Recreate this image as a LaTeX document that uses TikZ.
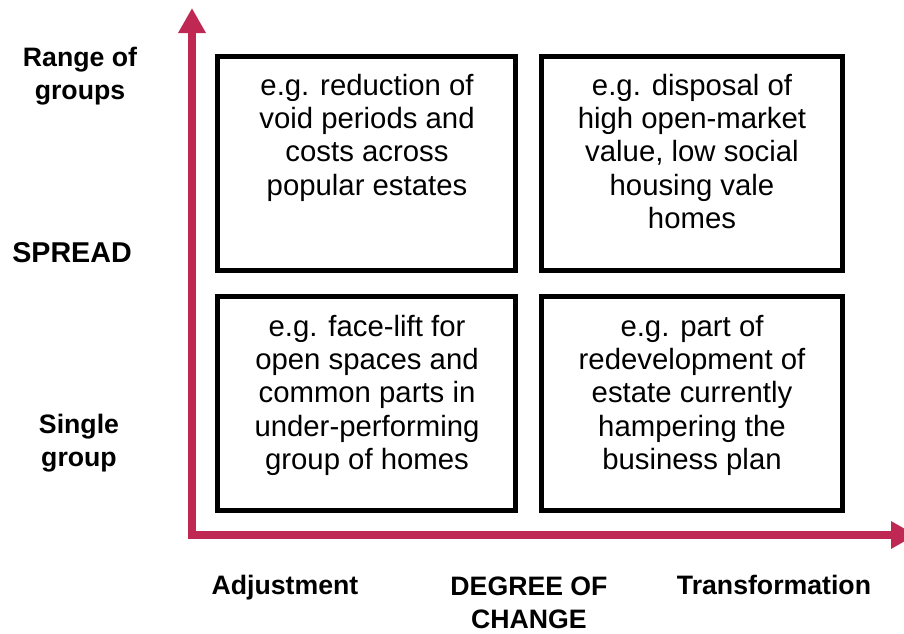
\documentclass[tikz,border=0pt]{standalone}
\usepackage{fontspec}
\setmainfont{Liberation Sans}
\usetikzlibrary{arrows.meta}
\definecolor{axisred}{RGB}{190,40,82}
\begin{document}
\begin{tikzpicture}[x=0.75pt,y=-0.75pt,
  cell/.style={draw=black, line width=3.75pt, minimum width=#1,
    minimum height=160.5pt, inner sep=0pt},
  celltext/.style={anchor=north, align=center, inner sep=0pt,
    font=\fontsize{22}{25.1}\selectfont},
  axislabel/.style={align=center, inner sep=0pt,
    font=\fontsize{20}{24.6}\selectfont\bfseries},
  axisline/.style={draw=axisred, line width=6pt, line join=miter,
    {Triangle[length=18.75pt,width=19.5pt]}-{Triangle[length=18.75pt,width=19.5pt]}}]
\useasboundingbox (0,0) rectangle (904,633);

% axes
\coordinate (ytip) at (192,8);
\coordinate (origin) at (192,535);
\coordinate (xtip) at (916,535);
\draw[axisline] (ytip) -- (origin) -- (xtip);

% the four cells
\node[cell=223.5pt]  (tl) at (366.5,163.5) {};
\node[cell=225.75pt] (tr) at (692,163.5) {};
\node[cell=223.5pt]  (bl) at (366.5,403.5) {};
\node[cell=225.75pt] (br) at (692,403.5) {};

\node[celltext] (tltext) at (367,73.5) {e.g. reduction of\\void periods and\\costs across\\popular estates};
\node[celltext] (trtext) at (692,73.5) {e.g. disposal of\\high open-market\\value, low social\\housing vale\\homes};
\node[celltext] (bltext) at (367,314.5) {e.g. face-lift for\\open spaces and\\common parts in\\under-performing\\group of homes};
\node[celltext] (brtext) at (692,314.5) {e.g. part of\\redevelopment of\\estate currently\\hampering the\\business plan};

% axis labels
\node[axislabel, anchor=north] (range) at (80,47) {Range of\\groups};
\node[axislabel, anchor=base, font=\fontsize{21.5}{24}\selectfont\bfseries] (spread) at (72,262) {SPREAD};
\node[axislabel, anchor=north] (single) at (79,414) {Single\\group};
\node[axislabel, anchor=base] (adjust) at (285,594) {Adjustment};
\node[axislabel, anchor=north] (degree) at (529,577) {DEGREE OF\\CHANGE};
\node[axislabel, anchor=base] (transform) at (774,594) {Transformation};
\end{tikzpicture}
\end{document}
